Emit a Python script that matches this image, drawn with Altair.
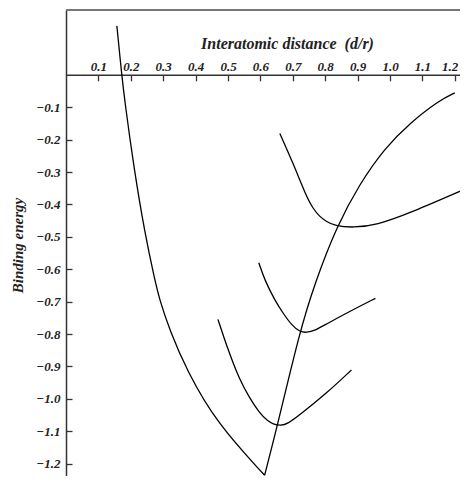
import altair as alt
import pandas as pd

# Curve values (x = d/r, y = binding energy)
a_x = [0.157, 0.172, 0.181, 0.209, 0.243, 0.274, 0.289, 0.320, 0.372, 0.465, 0.613]
a_y = [0.151, 0.0, -0.078, -0.284, -0.488, -0.633, -0.695, -0.788, -0.911, -1.075, -1.236]

b_x = [0.613, 0.653, 0.721, 0.768, 0.836, 0.906, 0.984, 1.061, 1.153, 1.200]
b_y = [-1.236, -1.081, -0.794, -0.643, -0.467, -0.337, -0.226, -0.149, -0.078, -0.056]

c_x = [0.660, 0.701, 0.742, 0.762, 0.783, 0.804, 0.829, 0.886, 0.958, 1.061, 1.231]
c_y = [-0.181, -0.273, -0.376, -0.412, -0.438, -0.453, -0.466, -0.472, -0.464, -0.427, -0.353]

d_x = [0.595, 0.613, 0.644, 0.670, 0.696, 0.721, 0.742, 0.768, 0.804, 0.876, 0.955]
d_y = [-0.580, -0.633, -0.695, -0.736, -0.772, -0.793, -0.796, -0.790, -0.769, -0.730, -0.690]

e_x = [0.469, 0.500, 0.536, 0.567, 0.598, 0.623, 0.639, 0.662, 0.685, 0.721, 0.804, 0.881]
e_y = [-0.755, -0.849, -0.942, -0.998, -1.045, -1.069, -1.078, -1.083, -1.077, -1.050, -0.983, -0.911]

x_ticks = [0.1, 0.2, 0.3, 0.4, 0.5, 0.6, 0.7, 0.8, 0.9, 1.0, 1.1, 1.2]
y_ticks = [-0.1, -0.2, -0.3, -0.4, -0.5, -0.6, -0.7, -0.8, -0.9, -1.0, -1.1, -1.2]

rows = []
for name, xs_, ys_ in [("A", a_x, a_y), ("B", b_x, b_y), ("C", c_x, c_y),
                       ("D", d_x, d_y), ("E", e_x, e_y)]:
    for x, y in zip(xs_, ys_):
        rows.append({"curve": name, "d": x, "E": y})
df = pd.DataFrame(rows)

W, H = 394, 466
PX = 324.0
FONT = "Liberation Serif"
AX = "#333333"
TXT = "#222222"

xscale = alt.Scale(domain=[0, W / PX], nice=False, zero=False)
yscale = alt.Scale(domain=[0.2 - H / PX, 0.2], nice=False, zero=False)
y0 = 0.2 * PX  # pixel of y=0 from top

x_axis = alt.Axis(
    orient="bottom", offset=y0 - H, values=x_ticks, format=".1f",
    tickSize=6, tickColor=AX, tickWidth=1.3, domainColor=AX, domainWidth=1.5,
    labelPadding=-10.5, labelBaseline="alphabetic", labelOverlap=False,
    labelFlush=6, labelFlushOffset=3,
    labelFont=FONT, labelFontSize=13, labelFontWeight="bold", labelFontStyle="italic",
    labelColor=TXT,
    title="Interatomic distance \u00a0(d/r)", titleX=221, titleY=-26,
    titleBaseline="alphabetic", titleAlign="center",
    titleFont=FONT, titleFontSize=16, titleFontWeight="bold", titleFontStyle="italic",
    titleColor=TXT, grid=False,
)

y_axis = alt.Axis(
    orient="right", offset=-W, values=y_ticks,
    labelExpr="'\u2212' + format(abs(datum.value), '.1f')",
    tickSize=6, tickColor=AX, tickWidth=1.3, domainColor=AX, domainWidth=1.5,
    labelPadding=-12, labelAlign="right", labelBaseline="middle", labelOverlap=False,
    labelFont=FONT, labelFontSize=13, labelFontWeight="bold", labelFontStyle="italic",
    labelColor=TXT,
    title="Binding energy", titleAngle=270, titleX=-49, titleY=235,
    titleAlign="center", titleBaseline="middle",
    titleFont=FONT, titleFontSize=15, titleFontWeight="bold", titleFontStyle="italic",
    titleColor=TXT, grid=False,
)

lines = alt.Chart(df).mark_line(
    interpolate="basis", color="black", strokeWidth=1.3, clip=True
).encode(
    x=alt.X("d:Q", scale=xscale, axis=x_axis),
    y=alt.Y("E:Q", scale=yscale, axis=y_axis),
    detail="curve:N",
)

top_rule = alt.Chart(df).mark_rule(color="#777777", strokeWidth=2).encode(
    x=alt.value(0), x2=alt.value(W), y=alt.value(0)
)

chart = alt.layer(lines, top_rule).properties(
    width=W, height=H,
    autosize=alt.AutoSizeParams(type="none"),
    padding={"left": 58, "top": 2, "right": 0, "bottom": 0},
).configure_view(stroke=None)

chart.save("out.html", embed_options={"renderer": "svg", "actions": False})
